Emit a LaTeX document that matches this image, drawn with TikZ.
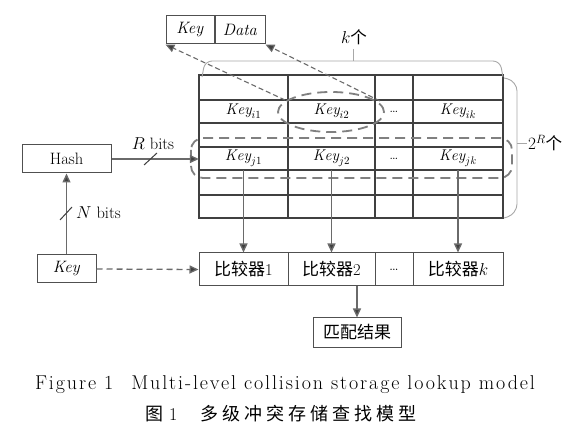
\documentclass[tikz,border=0pt]{standalone}
\usepackage{fontspec}
\newfontfamily\cjk{Noto Sans CJK SC}
\newfontfamily\cjkcap[LetterSpace=22]{Noto Sans CJK SC}
\newfontfamily\capfont[LetterSpace=9.5]{Latin Modern Roman}
\usetikzlibrary{arrows.meta,shapes.geometric}
\definecolor{tblc}{HTML}{404040}
\definecolor{boxc}{HTML}{505050}
\definecolor{arrc}{HTML}{6A6A6A}
\definecolor{dshc}{HTML}{808080}
\definecolor{brkc}{HTML}{A8A8A8}
\begin{document}
\begin{tikzpicture}[x=1pt,y=-1pt,
  font=\fontsize{16.5}{19}\selectfont,
  tbl/.style={draw=tblc,line width=1.3pt},
  cell/.style={inner sep=0pt,minimum height=23pt,font=\fontsize{15.5}{18}\selectfont},
  box/.style={draw=boxc,line width=1pt,inner sep=0pt,minimum height=28pt},
  comp/.style={draw=boxc,line width=1pt,inner sep=0pt,minimum height=33pt},
  arr/.style={draw=arrc,line width=1.4pt,-{Triangle[length=9pt,width=8pt,fill=tblc]}},
  darr/.style={draw=arrc,line width=1.3pt,dash pattern=on 6pt off 4pt,-{Triangle[length=9pt,width=8pt,fill=tblc]}},
  dsh/.style={draw=dshc,line width=1.8pt,dash pattern=on 10pt off 6pt},
  brk/.style={draw=brkc,line width=0.9pt},
  cjkt/.style={font=\fontsize{17}{19}\selectfont\cjk}]
\useasboundingbox[fill=white] (0,0) rectangle (573,438);

% table grid
\draw[tbl] (199,75) rectangle (503,218);
\foreach \yy in {100,123,147,170,195} \draw[tbl] (199,\yy) -- (503,\yy);
\foreach \xx in {288,375,413} \draw[tbl] (\xx,75) -- (\xx,218);

% cells
\node[cell,minimum width=89pt] (ki1) at (243.5,111.5) {$\mathit{Key}_{i1}$};
\node[cell,minimum width=87pt] (ki2) at (331.5,111.5) {$\mathit{Key}_{i2}$};
\node[cell,minimum width=38pt] (kid) at (394,111.5) {\dots};
\node[cell,minimum width=90pt] (kik) at (458,111.5) {$\mathit{Key}_{ik}$};
\node[cell,minimum width=89pt] (kj1) at (243.5,158.5) {$\mathit{Key}_{j1}$};
\node[cell,minimum width=87pt] (kj2) at (331.5,158.5) {$\mathit{Key}_{j2}$};
\node[cell,minimum width=38pt] (kjd) at (394,158.5) {\dots};
\node[cell,minimum width=90pt] (kjk) at (458,158.5) {$\mathit{Key}_{jk}$};

% dashed groupings
\node[ellipse,dsh,minimum width=106pt,minimum height=40pt,inner sep=0pt] (ell) at (331,112) {};
\draw[dsh,rounded corners=12pt] (191,138) rectangle (512,178);

% brackets
\draw[brk,rounded corners=7pt] (202,77) -- (205,61) -- (500,61) -- (503,77);
\draw[brk] (353,61) -- (353,49);
\node (klab) at (354,37) {$k${\cjk 个}};
\draw[brk,rounded corners=10pt] (504,78) -- (517,81) -- (517,214) -- (504,218);
\draw[brk] (517,143) -- (527,143);
\node[anchor=west,inner sep=1pt] (rlab) at (527,143) {$2^{R}${\cjk 个}};

% Key | Data
\node[box,minimum width=48pt] (kkey) at (190,30) {\textit{Key}};
\node[box,minimum width=50pt,anchor=west] (kdata) at (kkey.east) {\textit{Data}};
\coordinate (e1) at (285,100);
\coordinate (e2) at (380,101);
\draw[darr,line width=1.1pt,dash pattern=on 5pt off 3pt] (e1) -- (kkey.south west);
\draw[darr,line width=1.1pt,dash pattern=on 5pt off 3pt] (e2) -- (kdata.south east);

% Hash and Key
\node[box,minimum width=89pt] (hash) at (66.5,159) {Hash};
\node[box,minimum width=59pt] (key) at (66.5,269) {\textit{Key}};
\draw[arr] (key.north) -- (hash.south);
\draw[tblc,line width=1pt] (60,220) -- (72,207);
\node[anchor=west,inner sep=0pt] (nlab) at (76,213) {$N$ bits};
\draw[arr] (hash.east) -- (hash.east -| kj1.west);
\draw[tblc,line width=1pt] (144,165) -- (157,153);
\node (rbits) at (153,144) {$R$ bits};

% comparators
\node[comp,minimum width=89pt] (c1) at (243.5,269.5) {{\fontsize{17}{19}\selectfont\cjk 比较器}1};
\node[comp,minimum width=87pt] (c2) at (331.5,269.5) {{\fontsize{17}{19}\selectfont\cjk 比较器}2};
\node[comp,minimum width=38pt] (cd) at (394,269.5) {\dots};
\node[comp,minimum width=90pt] (ck) at (458,269.5) {{\fontsize{17}{19}\selectfont\cjk 比较器}$k$};
\draw[darr] (key.east) -- (c1.west);
\draw[arr] (kj1.south) -- (c1.north);
\draw[arr] (kj2.south) -- (c2.north);
\draw[arr] (kjk.south) -- (ck.north);

% result
\node[box,minimum width=88pt,minimum height=29pt,cjkt] (res) at (357,332.5) {匹配结果};
\draw[arr] (res.north |- c2.south) -- (res.north);

% captions
\node (cap1) at (285,385) {\fontsize{20}{22}\selectfont\capfont Figure 1\hspace{0.9em}Multi-level collision storage lookup model};
\node (cap2) at (281,414) {\fontsize{18}{22}\selectfont{\cjkcap 图} 1\hspace{1.3em}{\cjkcap 多级冲突存储查找模型}};
\end{tikzpicture}
\end{document}
